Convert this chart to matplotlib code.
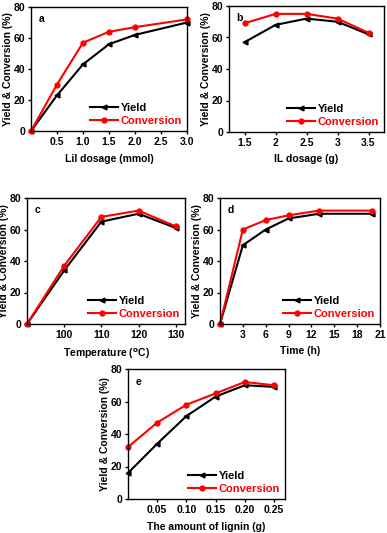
import matplotlib
matplotlib.use("Agg")
import matplotlib.pyplot as plt

plt.rcParams['font.family'] = ['Liberation Sans', 'DejaVu Sans']
plt.rcParams['font.weight'] = 'bold'
plt.rcParams['axes.labelweight'] = 'bold'

# panel a: LiI dosage
lii_x = [0, 0.5, 1.0, 1.5, 2.0, 3.0]
lii_yield = [0, 23, 43, 56, 62, 70]
lii_conv = [0, 30, 57, 64, 67, 72]
lii_ticks = [0.5, 1.0, 1.5, 2.0, 2.5, 3.0]
lii_ticklabels = ['0.5', '1.0', '1.5', '2.0', '2.5', '3.0']

# panel b: IL dosage
il_x = [1.5, 2, 2.5, 3, 3.5]
il_yield = [57, 68, 72, 70, 62]
il_conv = [69, 75, 75, 72, 63]
il_ticks = [1.5, 2, 2.5, 3, 3.5]
il_ticklabels = ['1.5', '2', '2.5', '3', '3.5']

# panel c: temperature
temp_x = [90, 100, 110, 120, 130]
temp_yield = [0, 34, 65, 70, 61]
temp_conv = [0, 37, 68, 72, 62]
temp_ticks = [100, 110, 120, 130]
temp_ticklabels = ['100', '110', '120', '130']

# panel d: time
time_x = [0, 3, 6, 9, 13, 20]
time_yield = [0, 50, 60, 67, 70, 70]
time_conv = [0, 60, 66, 69, 72, 72]
time_ticks = [3, 6, 9, 12, 15, 18, 21]
time_ticklabels = ['3', '6', '9', '12', '15', '18', '21']

# panel e: lignin amount
lig_x = [0, 0.05, 0.10, 0.15, 0.20, 0.25]
lig_yield = [16, 34, 51, 63, 70, 69]
lig_conv = [32, 47, 58, 65, 72, 70]
lig_ticks = [0.05, 0.10, 0.15, 0.20, 0.25]
lig_ticklabels = ['0.05', '0.10', '0.15', '0.20', '0.25']

y_ticks = [0, 20, 40, 60, 80]

W, H = 387, 533
fig = plt.figure(figsize=(W / 100, H / 100), dpi=100)


def make_ax(left, right, top, bottom):
    return fig.add_axes([left / W, (H - bottom) / H, (right - left) / W, (bottom - top) / H])


def panel(ax, x, yld, conv, xlim, ticks, ticklabels, xlabel, letter):
    ax.plot(x, yld, color='black', marker='<', markersize=3.5, lw=1.5, label='Yield', clip_on=False)
    ax.plot(x, conv, color='red', marker='o', markersize=3.5, lw=1.5, label='Conversion', clip_on=False)
    ax.set_xlim(*xlim)
    ax.set_ylim(0, 80)
    ax.set_xticks(ticks)
    ax.set_xticklabels(ticklabels)
    ax.set_yticks(y_ticks)
    ax.tick_params(direction='out', length=2.5, width=1, labelsize=7.5, pad=1.5)
    for s in ax.spines.values():
        s.set_linewidth(1)
    ax.set_xlabel(xlabel, fontsize=7.5, labelpad=5)
    ax.set_ylabel('Yield & Conversion (%)', fontsize=7.5, labelpad=0.5)
    ax.text(0.05, 0.88, letter, transform=ax.transAxes, fontsize=7.5, fontweight='bold')
    leg = ax.legend(loc='lower right', frameon=False, fontsize=8, handlelength=2.6,
                    handletextpad=0.2, labelspacing=0.25, borderaxespad=0.05)
    leg.get_texts()[1].set_color('red')


ax_a = make_ax(31, 187, 7, 131)
panel(ax_a, lii_x, lii_yield, lii_conv, (0, 3.0), lii_ticks, lii_ticklabels, 'LiI dosage (mmol)', 'a')

ax_b = make_ax(229, 384, 6, 132)
panel(ax_b, il_x, il_yield, il_conv, (1.25, 3.75), il_ticks, il_ticklabels, 'IL dosage (g)', 'b')

ax_c = make_ax(27, 185, 198, 324)
panel(ax_c, temp_x, temp_yield, temp_conv, (90, 132.5), temp_ticks, temp_ticklabels,
      'Temperature ($^{\\mathbf{o}}$C)', 'c')

ax_d = make_ax(220, 380, 198, 324)
panel(ax_d, time_x, time_yield, time_conv, (0, 21), time_ticks, time_ticklabels, 'Time (h)', 'd')

ax_e = make_ax(128, 285, 369, 499)
panel(ax_e, lig_x, lig_yield, lig_conv, (0, 0.269), lig_ticks, lig_ticklabels,
      'The amount of lignin (g)', 'e')

fig.savefig('out.png', dpi=100)
